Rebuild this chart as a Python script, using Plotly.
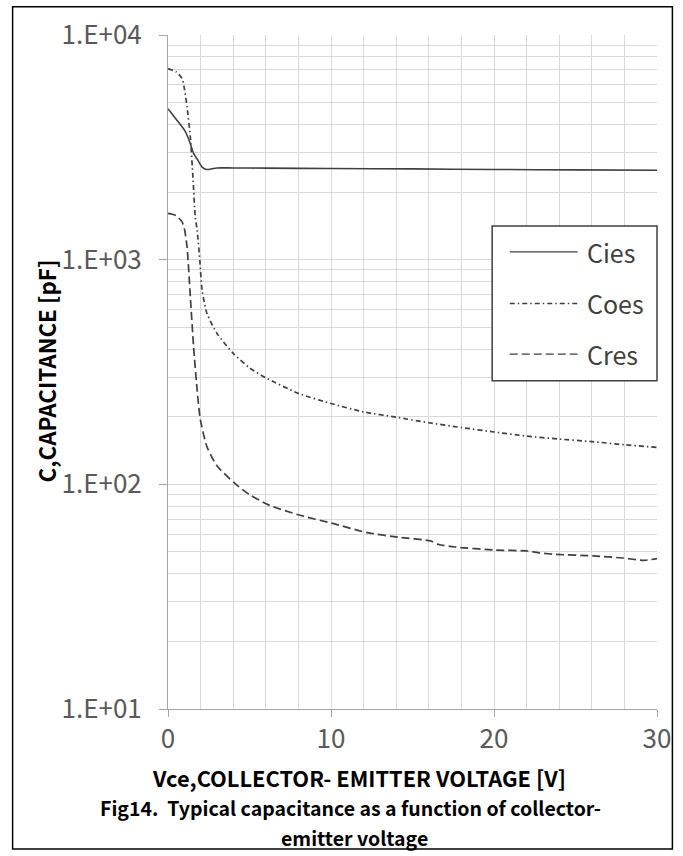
import plotly.graph_objects as go

# Collector-emitter voltage sweep points (V) and capacitances (pF)
v_cies = [0, 0.5, 1.0, 1.17, 1.37, 1.57, 1.85, 2.08, 2.39, 2.7, 3.0, 4, 6, 10, 15, 20, 25, 30]
cies = [4700, 4220, 3780, 3580, 3280, 2970, 2760, 2590, 2520, 2540, 2560, 2560, 2555, 2545, 2535, 2520, 2510, 2500]

v_coes = [0, 0.5, 0.86, 1.0, 1.17, 1.37, 1.54, 1.67, 1.79, 1.95, 2.09, 2.39, 3.0, 4.0, 5.0, 6.0, 8.0,
          10, 12, 14, 16, 18, 20, 22, 24, 26, 28, 30]
coes = [7090, 6850, 6400, 5800, 4780, 3520, 2260, 1550, 1352, 995, 732, 576, 470, 383, 330, 298, 254,
        229, 210, 199, 188, 179, 171, 164, 159, 155, 150, 146]

v_cres = [0, 0.5, 0.86, 1.0, 1.17, 1.37, 1.57, 1.77, 1.98, 2.39, 3.0, 4.1, 5.0, 6.17, 8.04,
          10.1, 12.2, 14.25, 16.1, 16.6, 17.6, 20.05, 22.1, 22.8, 23.8, 26.1, 27.9, 29.2, 30]
cres = [1606, 1570, 1473, 1380, 1140, 684, 409, 272, 195, 147, 121, 101, 90, 81, 73,
        67, 61, 58, 56, 54, 52.6, 51, 50.5, 49.5, 48.8, 48, 47, 45.9, 46.7]

series_names = ["Cies", "Coes", "Cres"]

y_major = [10, 100, 1000, 10000]
y_major_text = ["1.E+01", "1.E+02", "1.E+03", "1.E+04"]
y_minor = [m * 10 ** e for e in (1, 2, 3) for m in range(2, 10)]

x_major = [0, 10, 20, 30]

# Page geometry (pixels)
W, H = 683, 856
L, R, T, B = 167.5, 660.0, 34.7, 709.0
PW, PH = R - L, B - T


def fx(px):
    return (px - L) / PW


def fy(py):
    return (B - py) / PH


LINE_COLOR = "#404040"
styles = {
    "Cies": dict(color=LINE_COLOR, width=1.6, dash="solid"),
    "Coes": dict(color=LINE_COLOR, width=1.7, dash="5px,3px,1.5px,3px"),
    "Cres": dict(color=LINE_COLOR, width=1.7, dash="8px,4px"),
}

fig = go.Figure()
for name, xs, ys in zip(series_names, [v_cies, v_coes, v_cres], [cies, coes, cres]):
    fig.add_trace(go.Scatter(x=xs, y=ys, mode="lines", name=name,
                             line=dict(shape="spline", smoothing=0.6, **styles[name]),
                             showlegend=False))

TICK_FONT = dict(family="Noto Sans CJK SC", size=26, color="#595959")
GRID = "#d9d9d9"
AXIS = "#a6a6a6"

fig.update_xaxes(
    range=[0, 30], tickvals=x_major, ticks="outside", ticklen=7, tickcolor=AXIS,
    showline=True, linecolor=AXIS, linewidth=1,
    showgrid=True, gridcolor=GRID, gridwidth=1,
    minor=dict(dtick=2, showgrid=True, gridcolor=GRID, gridwidth=1, ticks=""),
    tickfont=TICK_FONT, zeroline=False, ticklabelstandoff=0,
)
fig.update_yaxes(
    type="log", range=[1, 4], tickvals=y_major, ticktext=y_major_text,
    ticks="outside", ticklen=8, tickcolor=AXIS,
    showline=True, linecolor=AXIS, linewidth=1,
    showgrid=True, gridcolor=GRID, gridwidth=1,
    minor=dict(tickvals=y_minor, showgrid=True, gridcolor=GRID, gridwidth=1, ticks=""),
    tickfont=TICK_FONT, zeroline=False, ticklabelstandoff=12,
)

shapes = []
# outer frame
shapes.append(dict(type="rect", xref="paper", yref="paper",
                   x0=fx(11), x1=fx(675.5), y0=fy(6.5), y1=fy(849),
                   line=dict(color="#000000", width=1.5), layer="above"))
# legend box
shapes.append(dict(type="rect", xref="paper", yref="paper",
                   x0=fx(494), x1=fx(660), y0=fy(225.7), y1=fy(380.7),
                   line=dict(color=LINE_COLOR, width=1.5), fillcolor="white", layer="above"))

annotations = []
legend_rows = [251.7, 303.3, 354.0]
for name, row in zip(series_names, legend_rows):
    st = styles[name]
    shapes.append(dict(type="line", xref="paper", yref="paper",
                       x0=fx(511.7), x1=fx(580), y0=fy(row), y1=fy(row),
                       line=dict(color=st["color"], width=1.4, dash=st["dash"]), layer="above"))
    annotations.append(dict(xref="paper", yref="paper", x=fx(587), y=fy(row),
                            xanchor="left", yanchor="middle", showarrow=False, text=name,
                            font=dict(family="Noto Sans CJK SC", size=25, color=LINE_COLOR)))

annotations.append(dict(xref="paper", yref="paper", x=fx(45), y=fy(371), textangle=-90,
                        xanchor="center", yanchor="middle", showarrow=False,
                        text="C,CAPACITANCE [pF]",
                        font=dict(family="Noto Sans CJK SC", size=22.4, color="#000000", weight="bold")))
annotations.append(dict(xref="paper", yref="paper", x=fx(360), y=fy(778),
                        xanchor="center", yanchor="middle", showarrow=False,
                        text="Vce,COLLECTOR- EMITTER VOLTAGE [V]",
                        font=dict(family="Noto Sans CJK SC", size=21.8, color="#000000", weight="bold")))
CAP_FONT = dict(family="Noto Sans CJK SC", size=19.5, color="#000000", weight="bold")
annotations.append(dict(xref="paper", yref="paper", x=fx(351), y=fy(808),
                        xanchor="center", yanchor="middle", showarrow=False,
                        text="Fig14.  Typical capacitance as a function of collector-", font=CAP_FONT))
annotations.append(dict(xref="paper", yref="paper", x=fx(355), y=fy(838),
                        xanchor="center", yanchor="middle", showarrow=False,
                        text="emitter voltage", font=CAP_FONT))

fig.update_layout(
    width=W, height=H,
    margin=dict(l=L, r=W - R, t=T, b=H - B, pad=0),
    paper_bgcolor="white", plot_bgcolor="white",
    shapes=shapes, annotations=annotations,
)

fig.write_html("out.html")
